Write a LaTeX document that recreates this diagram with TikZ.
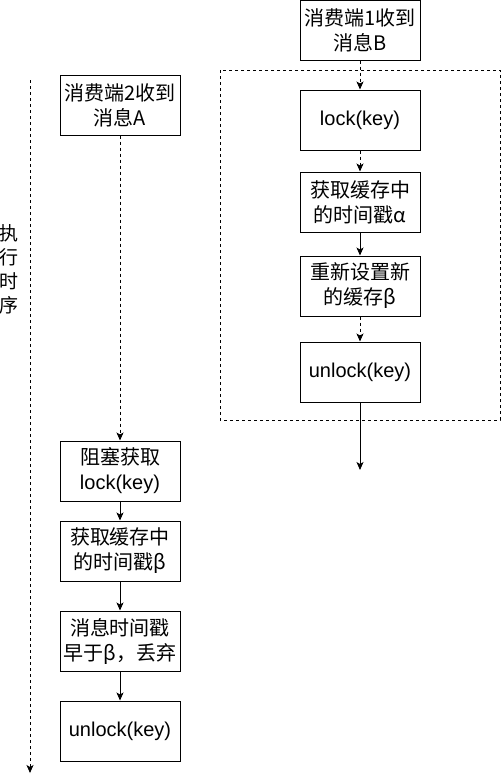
\documentclass[tikz,border=0pt]{standalone}
\usepackage{fontspec}
\setmainfont{Liberation Sans}
\newfontfamily\cjk{Noto Sans CJK SC}
\usetikzlibrary{arrows.meta}
\tikzset{
  box/.style={draw=black, line width=1pt, fill=white, minimum width=120pt, minimum height=60pt,
    inner sep=0pt, align=center, font=\fontsize{20}{25}\selectfont},
  conn/.style={line width=0.9pt, -{Stealth[length=8pt,width=7pt,inset=2pt]}},
  dconn/.style={conn, dash pattern=on 3pt off 3pt},
  groupbox/.style={draw=black, line width=0.9pt, dash pattern=on 3pt off 3pt},
  vlabel/.style={align=center, font=\fontsize{19}{24}\selectfont\cjk, inner sep=0pt}
}
\begin{document}
\begin{tikzpicture}[x=1pt,y=-1pt]
\useasboundingbox (0,0) rectangle (501,780);
% group container
\draw[groupbox] (220,70) rectangle (500,420);
% right column
\node[box] (top) at (360,30) {\cjk{消费端}1\cjk{收到}\\\cjk{消息}B};
\node[box] (lock) at (360,120) {lock(key)};
\node[box] (ts) at (360,202) {\cjk{获取缓存中}\\\cjk{的时间戳}α};
\node[box] (reset) at (360,286) {\cjk{重新设置新}\\\cjk{的缓存}β};
\node[box] (unlock) at (360,372) {unlock(key)};
\coordinate (rend) at (360,470);
% left column
\node[box] (msgA) at (120,105) {\cjk{消费端}2\cjk{收到}\\\cjk{消息}A};
\node[box] (block) at (120,471) {\cjk{阻塞获取}\\lock(key)};
\node[box] (ts2) at (120,551) {\cjk{获取缓存中}\\\cjk{的时间戳}β};
\node[box] (drop) at (120,641) {\cjk{消息时间戳}\\\cjk{早于}β\cjk{，丢弃}};
\node[box] (unlock2) at (120,731) {unlock(key)};
% time axis
\coordinate (tstart) at (30,80);
\coordinate (tend) at (30,773);
\node[vlabel] (tlabel) at (9,269) {执\\行\\时\\序};
% connectors
\draw[dconn] (top) -- (lock);
\draw[dconn] (lock) -- (ts);
\draw[conn] (ts) -- (reset);
\draw[dconn] (reset) -- (unlock);
\draw[conn] (unlock) -- (rend);
\draw[dconn] (msgA) -- (block);
\draw[conn] (block) -- (ts2);
\draw[conn] (ts2) -- (drop);
\draw[conn] (drop) -- (unlock2);
\draw[dconn] (tstart) -- (tend);
\end{tikzpicture}
\end{document}
